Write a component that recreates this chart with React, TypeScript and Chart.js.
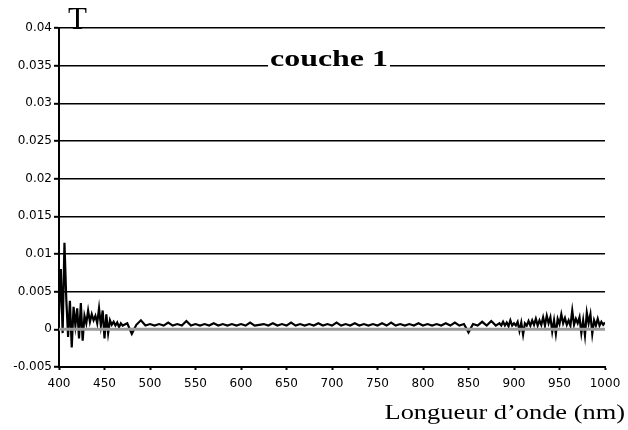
import React, { useEffect, useRef } from "react";
import { Chart, registerables } from "chart.js";

Chart.register(...registerables);

// Transmission spectrum "couche 1" — wavelength (nm) vs T
// Segment 1: 400–470 nm, every 2 nm
const seg1Start = 400;
const seg1Step = 2;
const seg1Values = [
  0.002, 0.008, -0.0005, 0.0115, 0.004, -0.001, 0.0038, -0.0024, 0.003, 0.0005,
  0.0028, -0.0012, 0.0035, -0.0015, 0.0018, 0.0008, 0.0025, 0.001, 0.002, 0.0012,
  0.0018, 0.0008, 0.0028, 0.0005, 0.0025, -0.0012, 0.002, -0.0005, 0.0012, 0.0006,
  0.001, 0.0005, 0.0009, 0.0003, 0.0008, 0.0005,
];

// Segment 2: 475–880 nm, every 5 nm
const seg2Start = 475;
const seg2Step = 5;
const seg2Values = [
  0.0008, -0.0006, 0.0006, 0.0012, 0.0005, 0.0007, 0.0005, 0.0007, 0.0005, 0.0009,
  0.0005, 0.0007, 0.0005, 0.0011, 0.0005, 0.0007, 0.0005, 0.0007, 0.0005, 0.0008,
  0.0005, 0.0007, 0.0005, 0.0007, 0.0005, 0.0007, 0.0005, 0.0009, 0.0005, 0.0006,
  0.0007, 0.0005, 0.0008, 0.0005, 0.0007, 0.0005, 0.0009, 0.0005, 0.0007, 0.0005,
  0.0007, 0.0005, 0.0008, 0.0005, 0.0007, 0.0005, 0.0009, 0.0005, 0.0007, 0.0005,
  0.0008, 0.0005, 0.0007, 0.0005, 0.0007, 0.0005, 0.0008, 0.0005, 0.0009, 0.0005,
  0.0007, 0.0005, 0.0007, 0.0005, 0.0008, 0.0005, 0.0007, 0.0005, 0.0007, 0.0005,
  0.0008, 0.0005, 0.0009, 0.0005, 0.0007, -0.0004, 0.0007, 0.0005, 0.001, 0.0005,
  0.0011, 0.0005,
];

// Segment 3: 884–1000 nm, every 2 nm
const seg3Start = 884;
const seg3Step = 2;
const seg3Values = [
  0.0008, 0.0005, 0.001, 0.0005, 0.0009, 0.0004, 0.0012, 0.0005, 0.0008, 0.0005,
  0.001, -0.0002, 0.0009, -0.0007, 0.0008, 0.0005, 0.0011, 0.0005, 0.0012, 0.0006,
  0.0014, 0.0005, 0.0012, 0.0006, 0.0016, 0.0005, 0.0018, 0.0008, 0.0016, -0.0003,
  0.0012, -0.0006, 0.0014, 0.0007, 0.002, 0.0008, 0.0015, 0.0006, 0.0012, 0.0005,
  0.0025, 0.0006, 0.0014, 0.0008, 0.0016, -0.0005, 0.0012, -0.0008, 0.0022, 0.0008,
  0.002, -0.0006, 0.0012, 0.0005, 0.0014, 0.0005, 0.001, 0.0006, 0.0009,
];

const chartTitle = "couche 1";
const yAxisTitle = "T";
const xAxisTitle = "Longueur d\u2019onde (nm)";

const xMin = 400;
const xMax = 1000;
const xStep = 50;
const yMin = -0.005;
const yMax = 0.04;
const yStep = 0.005;

function segmentPoints(start: number, step: number, values: number[]) {
  return values.map((v, i) => ({ x: start + i * step, y: v }));
}

const TICK_FONT = { family: "'DejaVu Sans', 'Liberation Sans', Arial, sans-serif", size: 12 };

const textPlugin = {
  id: "textPlugin",
  afterDatasetsDraw(chart: any) {
    const { ctx, chartArea, scales } = chart;
    // grey zero line drawn over the data
    const y0 = scales.y.getPixelForValue(0);
    ctx.save();
    ctx.strokeStyle = "#9a9a9a";
    ctx.lineWidth = 3;
    ctx.beginPath();
    ctx.moveTo(chartArea.left, y0);
    ctx.lineTo(chartArea.right, y0);
    ctx.stroke();
    ctx.restore();
  },
  afterDraw(chart: any) {
    const { ctx } = chart;
    ctx.save();
    ctx.fillStyle = "#000";
    ctx.textBaseline = "alphabetic";

    // Y axis title "T"
    ctx.font = "31px 'Liberation Serif', 'Times New Roman', serif";
    ctx.textAlign = "left";
    ctx.fillText(yAxisTitle, 68, 29);

    // Chart title with white background
    ctx.font = "bold 24px 'Liberation Serif', 'Times New Roman', serif";
    const tw = ctx.measureText(chartTitle).width;
    const sx = 1.33;
    const cx = 329;
    ctx.fillStyle = "#fff";
    ctx.fillRect(cx - (tw * sx) / 2 - 2, 44, tw * sx + 4, 24);
    ctx.fillStyle = "#000";
    ctx.save();
    ctx.translate(cx, 66);
    ctx.scale(sx, 1);
    ctx.textAlign = "center";
    ctx.fillText(chartTitle, 0, 0);
    ctx.restore();

    // X axis title
    ctx.font = "20px 'Liberation Serif', 'Times New Roman', serif";
    ctx.save();
    ctx.translate(625, 419);
    ctx.scale(1.32, 1);
    ctx.textAlign = "right";
    ctx.fillText(xAxisTitle, 0, 0);
    ctx.restore();

    ctx.restore();
  },
};

export default function App() {
  const canvasRef = useRef<HTMLCanvasElement | null>(null);

  useEffect(() => {
    document.body.style.margin = "0";
    const canvas = canvasRef.current;
    if (!canvas) return;
    const data = [
      ...segmentPoints(seg1Start, seg1Step, seg1Values),
      ...segmentPoints(seg2Start, seg2Step, seg2Values),
      ...segmentPoints(seg3Start, seg3Step, seg3Values),
    ];
    const chart = new Chart(canvas, {
      type: "scatter",
      data: {
        datasets: [
          {
            label: chartTitle,
            data,
            showLine: true,
            borderColor: "#000",
            backgroundColor: "#000",
            borderWidth: 2.2,
            pointRadius: 0,
            tension: 0,
          },
        ],
      },
      options: {
        animation: false,
        responsive: false,
        maintainAspectRatio: false,
        layout: { padding: { top: 28, right: 23, bottom: 0, left: 0 } },
        plugins: {
          legend: { display: false },
          tooltip: { enabled: false },
          title: { display: false },
        },
        scales: {
          x: {
            type: "linear",
            min: xMin,
            max: xMax,
            afterFit(scale: any) {
              scale.height = 63;
            },
            ticks: {
              stepSize: xStep,
              color: "#000",
              font: TICK_FONT,
              padding: 7,
              maxRotation: 0,
              autoSkip: false,
              callback: (v: any) => String(v),
            },
            grid: {
              display: true,
              drawOnChartArea: false,
              drawTicks: true,
              tickLength: 3,
              tickColor: "#000",
              tickWidth: 2,
            },
            border: { display: true, color: "#000", width: 2 },
          },
          y: {
            type: "linear",
            min: yMin,
            max: yMax,
            afterFit(scale: any) {
              scale.width = 59;
            },
            ticks: {
              stepSize: yStep,
              color: "#000",
              font: TICK_FONT,
              padding: 2,
              callback: (v: any) => String(parseFloat(Number(v).toFixed(3))),
            },
            grid: {
              display: true,
              drawOnChartArea: true,
              drawTicks: true,
              tickLength: 5,
              tickColor: "#000",
              tickWidth: 2,
              color: (ctx: any) =>
                ctx.tick && (Math.abs(ctx.tick.value) < 1e-9 || Math.abs(ctx.tick.value - yMin) < 1e-9)
                  ? "rgba(0,0,0,0)"
                  : "#000",
              lineWidth: 1.6,
            },
            border: { display: true, color: "#000", width: 2 },
          },
        },
      },
      plugins: [textPlugin],
    });
    return () => chart.destroy();
  }, []);

  return (
    <div style={{ position: "absolute", left: 0, top: 0, width: 628, height: 430, background: "#fff" }}>
      <canvas ref={canvasRef} width={628} height={430} style={{ width: 628, height: 430, display: "block" }} />
    </div>
  );
}
